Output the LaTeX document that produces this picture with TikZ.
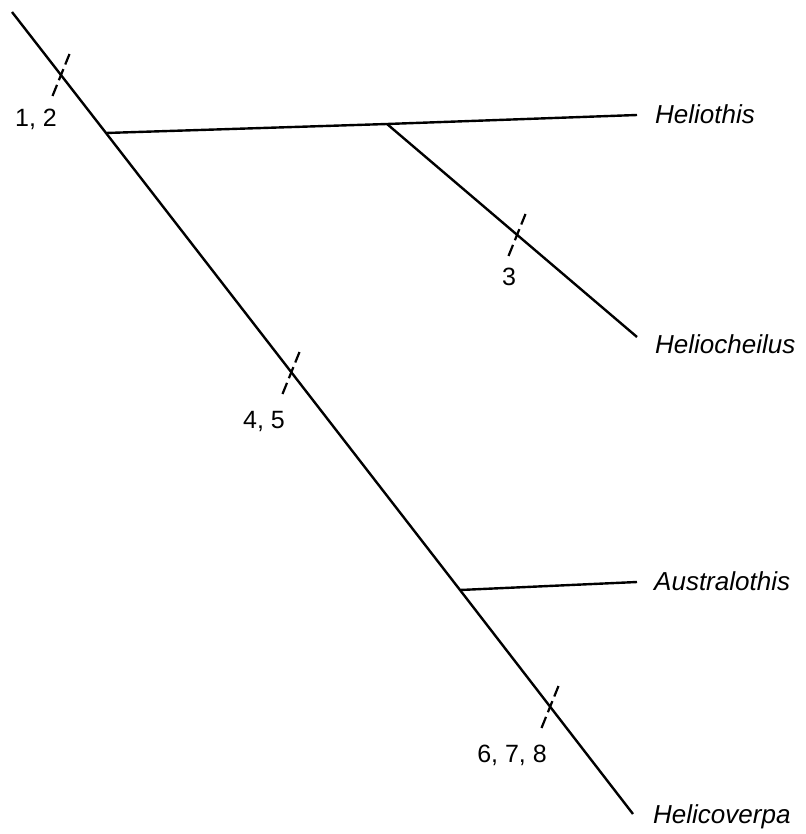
\documentclass[tikz,border=0pt]{standalone}
\usepackage{fontspec}
\setmainfont{Liberation Sans}
\usetikzlibrary{calc}
\begin{document}
\begin{tikzpicture}[x=1pt,y=-1pt,
  branch/.style={line width=2.4pt},
  tickmark/.style={line width=2.2pt, dash pattern=on 12pt off 5pt},
  taxon/.style={anchor=base west, inner sep=0pt, font=\fontsize{26}{30}\selectfont\itshape},
  charlabel/.style={anchor=base, inner sep=0pt, font=\fontsize{25}{30}\selectfont}]
\useasboundingbox (0,0) rectangle (805,834);
% coordinates
\coordinate (root) at (12,12);
\coordinate (j1) at (106,133);
\coordinate (j2) at (387,124);
\coordinate (j3) at (460,590);
\coordinate (eHo) at (637,115);
\coordinate (eHc) at (637,337);
\coordinate (eAu) at (637,582);
\coordinate (eHv) at (633,814);
\coordinate (t1) at (61,75);
\coordinate (t3) at (517,235);
\coordinate (t45) at (291,373);
\coordinate (t678) at (550,707);
% branches
\draw[branch] (root) -- (j1) -- (j3) -- (eHv);
\draw[branch] (j1) -- (j2) -- (eHo);
\draw[branch] (j2) -- (eHc);
\draw[branch] (j3) -- (eAu);
% ticks
\foreach \t in {t1,t3,t45,t678}
  \draw[tickmark] ($(\t)+(-8.5,21)$) -- ($(\t)+(8.5,-21)$);
% taxa
\node[taxon] (nHo) at (655,124) {Heliothis};
\node[taxon] (nHc) at (655,353) {Heliocheilus};
\node[taxon] (nAu) at (654,590) {Australothis};
\node[taxon] (nHv) at (653,823) {Helicoverpa};
% character labels
\node[charlabel] (c12) at (36,127) {1, 2};
\node[charlabel] (c3) at (509,285) {3};
\node[charlabel] (c45) at (264,428) {4, 5};
\node[charlabel] (c678) at (512,762) {6, 7, 8};
\end{tikzpicture}
\end{document}
